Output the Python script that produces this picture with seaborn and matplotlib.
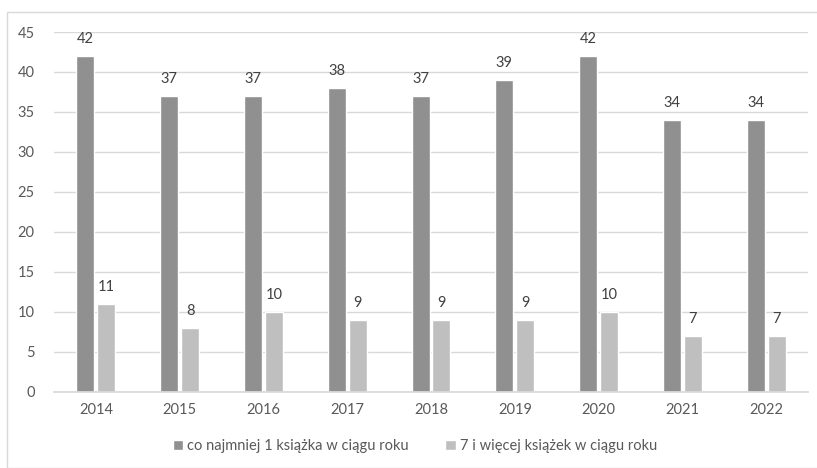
import matplotlib
matplotlib.use("Agg")
import matplotlib.pyplot as plt
from matplotlib.patches import Rectangle
import seaborn as sns
import pandas as pd

years = ["2014", "2015", "2016", "2017", "2018", "2019", "2020", "2021", "2022"]
at_least_one = [42, 37, 37, 38, 37, 39, 42, 34, 34]
seven_plus = [11, 8, 10, 9, 9, 9, 10, 7, 7]
series = ["co najmniej 1 książka w ciągu roku", "7 i więcej książek w ciągu roku"]
yticks = [0, 5, 10, 15, 20, 25, 30, 35, 40, 45]

df = pd.DataFrame({
    "rok": years * 2,
    "wartosc": at_least_one + seven_plus,
    "seria": [series[0]] * len(years) + [series[1]] * len(years),
})

sns.set_theme(style="white")
plt.rcParams["font.family"] = ["Lato", "DejaVu Sans"]

fig = plt.figure(figsize=(8.17, 4.68), dpi=100)
ax = fig.add_axes([54 / 817, 1 - 391.5 / 468, 754 / 817, 359.5 / 468])

sns.barplot(data=df, x="rok", y="wartosc", hue="seria", order=years,
            palette=["#909090", "#bfbfbf"], width=0.5, gap=0.14,
            saturation=1, ax=ax, legend=True)

for c in ax.containers:
    ax.bar_label(c, padding=7, fontsize=10.5, color="#404040")

ax.set_ylim(0, 45)
ax.set_yticks(yticks)
ax.set_xlim(-0.5, len(years) - 0.5)
ax.yaxis.grid(True, color="#d9d9d9", linewidth=1)
ax.set_axisbelow(True)
for s in ["top", "right", "left"]:
    ax.spines[s].set_visible(False)
ax.spines["bottom"].set_color("#d9d9d9")
ax.tick_params(axis="both", length=0, labelsize=10.5, labelcolor="#595959")
ax.tick_params(axis="y", pad=14)
ax.tick_params(axis="x", pad=8)
ax.set_xlabel("")
ax.set_ylabel("")

handles, labels = ax.get_legend_handles_labels()
ax.legend_.remove()
fig.legend(handles, labels, loc="center", bbox_to_anchor=(415 / 817, 1 - 446 / 468),
           ncol=2, frameon=False, fontsize=10.5, labelcolor="#595959",
           handlelength=0.7, handleheight=0.7, handletextpad=0.3, columnspacing=2.5)

fig.patches.append(Rectangle((7 / 817, 0), 1.2, 1 - 12 / 468, transform=fig.transFigure,
                             fill=False, edgecolor="#d9d9d9", linewidth=1))

fig.savefig("out.png", dpi=100)
